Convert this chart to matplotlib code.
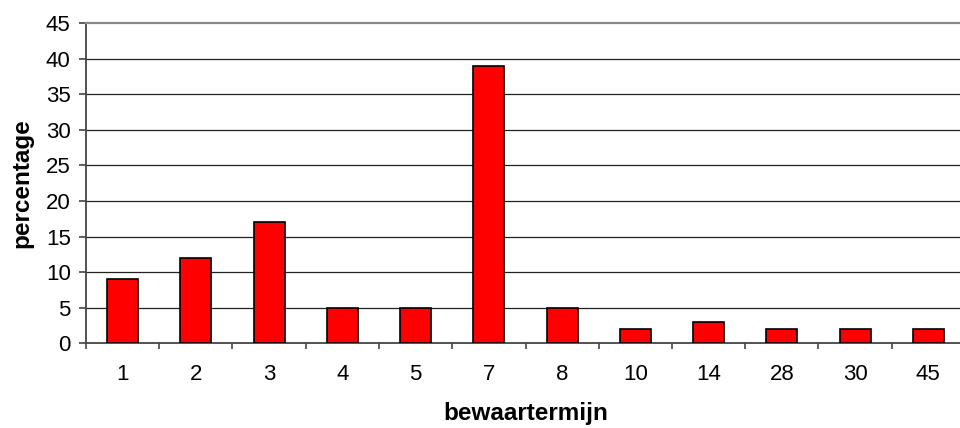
import matplotlib
matplotlib.use("Agg")
import matplotlib.pyplot as plt
import numpy as np

categories = ["1", "2", "3", "4", "5", "7", "8", "10", "14", "28", "30", "45"]
values = [9, 12, 17, 5, 5, 39, 5, 2, 3, 2, 2, 2]
yticks = [0, 5, 10, 15, 20, 25, 30, 35, 40, 45]

plt.rcParams['font.family'] = ['Liberation Sans', 'DejaVu Sans']

fig = plt.figure(figsize=(9.6, 4.28), dpi=100)
ax = fig.add_axes([86/960, (428-343.3)/428, (965-86)/960, (343.3-23)/428])

x = np.arange(len(categories))
ax.bar(x, values, width=0.42, color='#ff0000', edgecolor='black', linewidth=1.2, zorder=3)

ax.set_xlim(-0.5, len(categories) - 0.5)
ax.set_ylim(0, 45)
ax.set_yticks(yticks)
ax.set_yticklabels([str(t) for t in yticks])
ax.set_xticks(x)
ax.set_xticklabels(categories)
ax.set_xticks(np.arange(-0.5, len(categories), 1.0), minor=True)

ax.yaxis.grid(True, color='#222222', linewidth=0.9, zorder=0)
gl = ax.get_ygridlines()
gl[0].set_visible(False)
gl[-1].set_visible(False)

ax.spines['right'].set_visible(False)
ax.spines['top'].set_color('#8a8a8a')
ax.spines['top'].set_linewidth(1.6)
ax.spines['left'].set_color('#444444')
ax.spines['left'].set_linewidth(1.3)
ax.spines['bottom'].set_color('#444444')
ax.spines['bottom'].set_linewidth(1.3)

ax.tick_params(axis='x', which='major', length=0, pad=15, labelsize=16)
ax.tick_params(axis='x', which='minor', length=4, width=1.2, color='#444444', direction='out')
ax.tick_params(axis='y', length=5, width=1.2, color='#444444', pad=6, labelsize=16)

ax.set_xlabel('bewaartermijn', fontsize=17.5, fontweight='bold', labelpad=12.5)
ax.set_ylabel('percentage', fontsize=17.5, fontweight='bold', labelpad=9)

fig.savefig('out.png', dpi=100)
